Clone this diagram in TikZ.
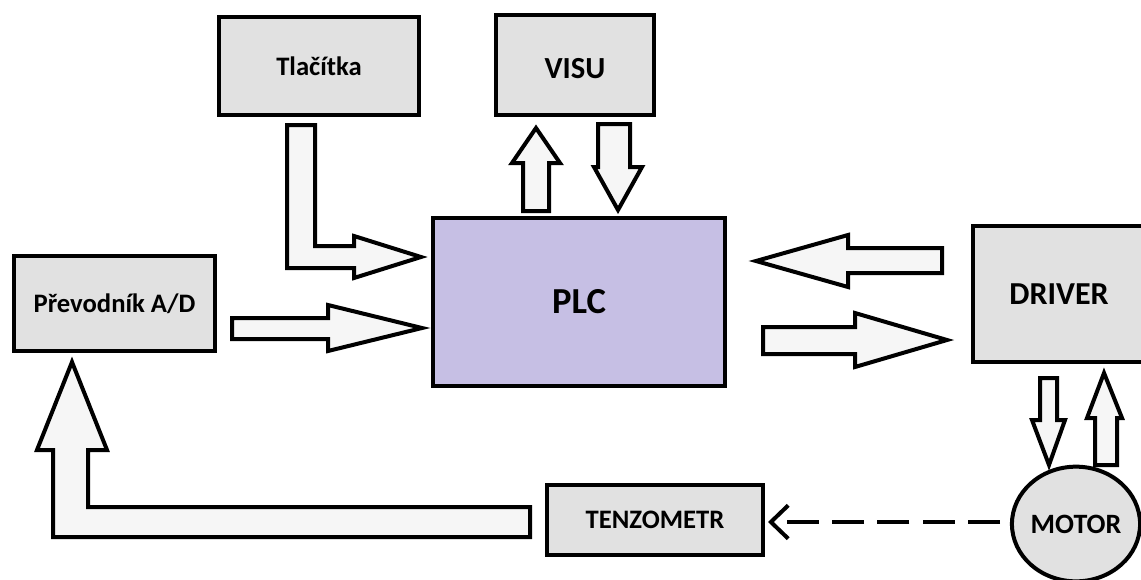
\documentclass[tikz,border=0pt]{standalone}
\usepackage{fontspec}
\setmainfont{Carlito}
\usetikzlibrary{fit,arrows.meta,shapes.geometric}
\definecolor{boxgray}{HTML}{E1E1E1}
\definecolor{plcviolet}{HTML}{C6BFE4}
\definecolor{arrfill}{HTML}{F6F6F6}
\begin{document}
\begin{tikzpicture}[x=0.75pt,y=-0.75pt,
  blk/.style={draw=black,line width=3pt,fill=boxgray,inner sep=0pt},
  barrow/.style={draw=black,line width=3pt,fill=arrfill,line join=miter},
  dasharrow/.style={draw=black,line width=3pt,dash pattern=on 24pt off 10pt,-{Straight Barb[length=13pt,width=25pt,line width=3pt]}}]
\useasboundingbox (0,0) rectangle (1141,579);
\fill[white] (0,0) rectangle (1141,579);
% boxes
\node[blk,fit={(219,17)(419,115)},label={[font=\bfseries\fontsize{20}{24}\selectfont]center:Tlačítka}] (tl) {};
\node[blk,fit={(496,15)(654,115)},label={[font=\bfseries\fontsize{23}{27}\selectfont,yshift=-3pt]center:VISU}] (visu) {};
\node[blk,fill=plcviolet,fit={(433,218)(725,386)},label={[font=\bfseries\fontsize{27.5}{32}\selectfont]center:PLC}] (plc) {};
\node[blk,fit={(14,256)(215,351)},label={[font=\bfseries\fontsize{20}{24}\selectfont]center:Převodník A/D}] (ad) {};
\node[blk,fit={(973,226)(1145,362)},label={[font=\bfseries\fontsize{24}{28}\selectfont]center:DRIVER}] (drv) {};
\node[blk,fit={(547,485)(763,555)},label={[font=\bfseries\fontsize{20}{24}\selectfont]center:TENZOMETR}] (tenz) {};
\node[blk,ellipse,minimum width=92pt,minimum height=86pt,font=\bfseries\fontsize{21}{25}\selectfont] (motor) at (1076,524) {MOTOR};
% block arrows
% Tlacitka -> PLC
\draw[barrow] (287,125) -- (315,125) -- (315,246) -- (354,246) -- (354,236) -- (421,257) -- (354,278) -- (354,268) -- (287,268) -- cycle;
% Prevodnik -> PLC
\draw[barrow] (232,318) -- (328,318) -- (328,305) -- (422,328) -- (328,351) -- (328,339) -- (232,339) -- cycle;
% PLC -> VISU (up)
\draw[barrow] (523,211) -- (523,163) -- (512,163) -- (536,128) -- (560,163) -- (549,163) -- (549,211) -- cycle;
% VISU -> PLC (down)
\draw[barrow] (598,124) -- (630,124) -- (630,167) -- (642,167) -- (618,210) -- (594,167) -- (598,167) -- cycle;
% DRIVER -> PLC
\draw[barrow] (942,248) -- (942,273) -- (848,273) -- (848,287) -- (756,261) -- (848,235) -- (848,248) -- cycle;
% PLC -> DRIVER
\draw[barrow] (763,327) -- (855,327) -- (855,313) -- (947,340) -- (855,367) -- (855,354) -- (763,354) -- cycle;
% DRIVER -> MOTOR
\draw[barrow] (1040,378) -- (1057,378) -- (1057,420) -- (1065,420) -- (1049,465) -- (1032,420) -- (1040,420) -- cycle;
% MOTOR -> DRIVER
\draw[barrow] (1095,465) -- (1095,418) -- (1087,418) -- (1104,373) -- (1122,418) -- (1117,418) -- (1117,465) -- cycle;
% TENZOMETR -> Prevodnik
\draw[barrow] (530,507) -- (88,507) -- (88,450) -- (107,450) -- (72,362) -- (37,450) -- (53,450) -- (53,537) -- (530,537) -- cycle;
% dashed
\coordinate (dstart) at (1000,522);
\coordinate (dend) at (768,522);
\draw[dasharrow] (dstart) -- (dend);
\end{tikzpicture}
\end{document}
